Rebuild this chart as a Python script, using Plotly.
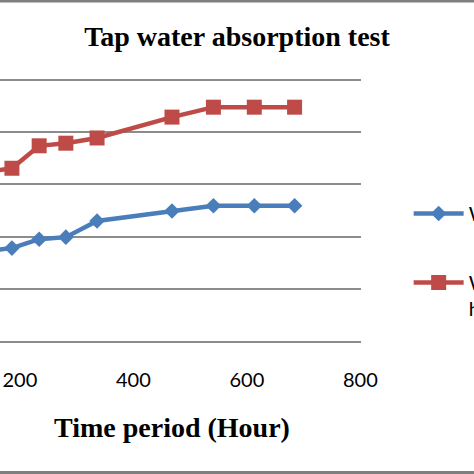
import plotly.graph_objects as go

hours = [120, 186, 234, 281, 336, 468, 541, 613, 684]
series_a = [1.70, 1.78, 1.95, 1.99, 2.30, 2.49, 2.59, 2.59, 2.59]
series_b = [3.20, 3.31, 3.74, 3.79, 3.89, 4.29, 4.48, 4.48, 4.48]
name_a = "Without coating"
name_b = "With<br>hydrophobic coating"
x_ticks = [200, 400, 600, 800]
y_ticks = [0, 1, 2, 3, 4, 5]

blue = "#4A7EBB"
red = "#BE4B48"
grid = "#8C8C8C"

fig = go.Figure()
fig.add_trace(go.Scatter(
    x=hours, y=series_a, name=name_a, mode="lines+markers",
    line=dict(color=blue, width=4.5),
    marker=dict(symbol="diamond", size=12, color=blue),
    legendgroup="a",
))
fig.add_trace(go.Scatter(
    x=hours, y=series_b, name=name_b, mode="lines+markers",
    line=dict(color=red, width=4.5),
    marker=dict(symbol="square", size=15, color=red),
    legendgroup="b",
))

fig.update_layout(
    width=474, height=474,
    margin=dict(l=0, r=113, t=79, b=133, autoexpand=False),
    paper_bgcolor="white", plot_bgcolor="white",
    title=dict(text="<b>Tap water absorption test</b>", x=0.5, xref="container",
               xanchor="center", y=1 - 36 / 474, yanchor="middle",
               font=dict(family="Liberation Serif", size=28, color="black")),
    xaxis=dict(range=[165, 801], tickvals=x_ticks, ticks="", showgrid=False,
               showline=True, linecolor=grid, linewidth=1.5, zeroline=False,
               ticklabelstandoff=20,
               tickfont=dict(family="Lato", size=20, color="black")),
    yaxis=dict(range=[0, 5.02], tickvals=y_ticks, showticklabels=False, ticks="",
               showgrid=True, gridcolor=grid, gridwidth=1.5, zeroline=False),
    legend=dict(x=1.132, xref="paper", y=213 / 474, yref="container", yanchor="middle",
                xanchor="left", valign="top", tracegroupgap=40, itemwidth=50,
                font=dict(family="Lato", size=20, color="black"),
                bgcolor="rgba(0,0,0,0)"),
    annotations=[
        dict(text="<b>Time period (Hour)</b>", xref="paper", yref="paper",
             x=172 / 361, y=-(427 - 341) / 262, xanchor="center", yanchor="middle",
             showarrow=False,
             font=dict(family="Liberation Serif", size=28, color="black")),
    ],
    shapes=[
        dict(type="line", xref="paper", yref="paper", x0=-0.01, x1=1.32,
             y0=1 + 78 / 262, y1=1 + 78 / 262, line=dict(color="#7F7F7F", width=3)),
        dict(type="line", xref="paper", yref="paper", x0=-0.01, x1=1.32,
             y0=-131.5 / 262, y1=-131.5 / 262, line=dict(color="#7F7F7F", width=3)),
    ],
)

fig.write_html("out.html", config={"displayModeBar": False},
               post_script="document.body.style.margin='0';")
